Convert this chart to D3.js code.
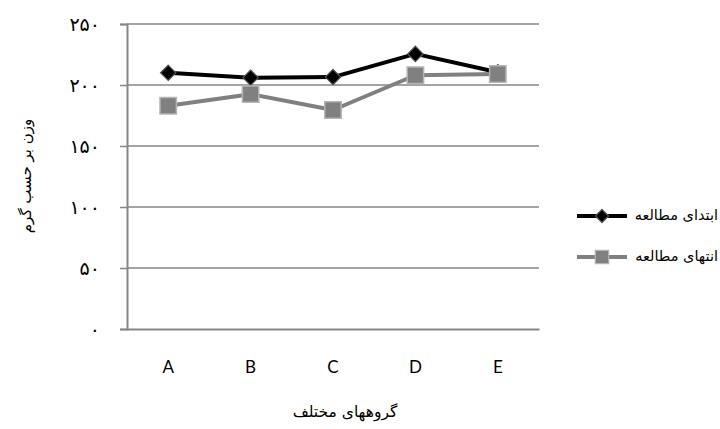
<!DOCTYPE html>
<html>
<head>
<meta charset="utf-8">
<script src="https://cdn.jsdelivr.net/npm/d3@7"></script>
<style>
  html, body { margin: 0; padding: 0; background: #fff; }
  svg { display: block; }
</style>
</head>
<body>
<svg id="chart" width="720" height="429"></svg>
<script>
// Groups on the category axis
const groups = ["A", "B", "C", "D", "E"];
// Mean weight (g) at the start and at the end of the study
const startValues = [210, 206, 206.5, 225.5, 210.5];
const endValues = [183, 192.5, 179.5, 208, 209];
// Value-axis ticks and their Persian labels
const yTicks = [0, 50, 100, 150, 200, 250];
const yTickLabels = ["۰", "۵۰", "۱۰۰", "۱۵۰", "۲۰۰", "۲۵۰"];
const seriesNames = ["ابتدای مطالعه", "انتهای مطالعه"];

const svg = d3.select("#chart");
const plot = { left: 127, right: 539, top: 24, bottom: 329 };

const x = d3.scaleBand().domain(groups).range([plot.left, plot.right]);
const y = d3.scaleLinear().domain([0, 250]).range([plot.bottom, plot.top]);
const cx = d => x(d) + x.bandwidth() / 2;

const axisGray = "#868686";

// Horizontal gridlines
svg.append("g")
  .selectAll("line")
  .data(yTicks.filter(t => t > 0))
  .join("line")
  .attr("x1", plot.left).attr("x2", plot.right)
  .attr("y1", d => y(d)).attr("y2", d => y(d))
  .attr("stroke", axisGray).attr("stroke-width", 1.5);

// Value axis
const yAxis = svg.append("g")
  .attr("transform", `translate(${plot.left},0)`)
  .call(d3.axisLeft(y).tickValues(yTicks)
    .tickFormat((d, i) => yTickLabels[i]).tickSize(7).tickPadding(20));
yAxis.select(".domain").attr("stroke", axisGray).attr("stroke-width", 2);
yAxis.selectAll(".tick line").attr("stroke", axisGray).attr("stroke-width", 1.5);
yAxis.selectAll("text")
  .attr("font-family", "DejaVu Sans").attr("font-size", 19)
  .attr("fill", "#000").attr("dy", "0.32em");

// Category axis
const xAxis = svg.append("g")
  .attr("transform", `translate(0,${plot.bottom})`)
  .call(d3.axisBottom(x).tickSize(0).tickPadding(32));
xAxis.select(".domain").attr("stroke", axisGray).attr("stroke-width", 2);
xAxis.selectAll("text")
  .attr("font-family", "Lato, 'Open Sans', sans-serif").attr("font-size", 17).attr("fill", "#000");

// Series lines and markers
const line = d3.line().x((d, i) => cx(groups[i])).y(d => y(d));

svg.append("path").datum(endValues)
  .attr("d", line).attr("fill", "none")
  .attr("stroke", "#808080").attr("stroke-width", 4).attr("stroke-linejoin", "round");
svg.append("path").datum(startValues)
  .attr("d", line).attr("fill", "none")
  .attr("stroke", "#000").attr("stroke-width", 4).attr("stroke-linejoin", "round");

const diamond = d3.symbol().type(d3.symbolDiamond2).size(150);
const square = d3.symbol().type(d3.symbolSquare).size(270);

svg.append("g").selectAll("path")
  .data(startValues).join("path")
  .attr("d", diamond)
  .attr("transform", (d, i) => `translate(${cx(groups[i])},${y(d)})`)
  .attr("fill", "#000").attr("stroke", "#555").attr("stroke-width", 1.2);

svg.append("g").selectAll("path")
  .data(endValues).join("path")
  .attr("d", square)
  .attr("transform", (d, i) => `translate(${cx(groups[i])},${y(d)})`)
  .attr("fill", "#808080").attr("stroke", "#b4b4b4").attr("stroke-width", 1.5);

// Axis titles
svg.append("text")
  .attr("transform", "translate(26,176) rotate(-90)")
  .attr("text-anchor", "middle").attr("dominant-baseline", "middle")
  .attr("font-family", "DejaVu Sans").attr("font-size", 15)
  .text("وزن بر حسب گرم");

svg.append("text")
  .attr("x", 345).attr("y", 412)
  .attr("text-anchor", "middle").attr("dominant-baseline", "middle")
  .attr("font-family", "DejaVu Sans").attr("font-size", 15.5)
  .text("گروههای مختلف");

// Legend
const legend = svg.append("g");
const legendRows = [
  { name: seriesNames[0], color: "#000", fill: "#000", edge: "#555", yPos: 216 },
  { name: seriesNames[1], color: "#808080", fill: "#808080", edge: "#b4b4b4", yPos: 257 }
];
legendRows.forEach((r, i) => {
  legend.append("line")
    .attr("x1", 577).attr("x2", 627).attr("y1", r.yPos).attr("y2", r.yPos)
    .attr("stroke", r.color).attr("stroke-width", 4);
  legend.append("path")
    .attr("d", i === 0 ? d3.symbol().type(d3.symbolDiamond2).size(110)() : d3.symbol().type(d3.symbolSquare).size(180)())
    .attr("transform", `translate(602,${r.yPos})`)
    .attr("fill", r.fill).attr("stroke", r.edge).attr("stroke-width", 1.2);
  legend.append("text")
    .attr("x", 718).attr("y", r.yPos)
    .attr("text-anchor", "start").attr("direction", "rtl")
    .attr("dominant-baseline", "middle")
    .attr("font-family", "DejaVu Sans").attr("font-size", 14.5)
    .text(r.name);
});
</script>
</body>
</html>
